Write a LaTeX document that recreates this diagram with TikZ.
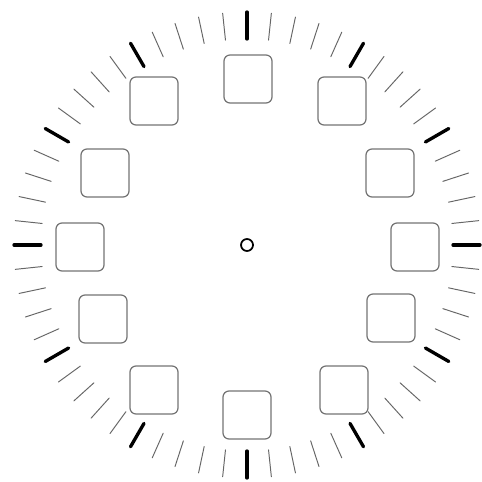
\documentclass[tikz,border=0pt]{standalone}
\usetikzlibrary{calc}
\begin{document}
\begin{tikzpicture}[x=0.02cm, y=-0.02cm, line join=round, line cap=round]
	\def\rin{206}\def\rout{233}
	\tikzset{hourbox/.style={draw=black!55, line width=0.7pt, rounded corners=0.12cm, minimum size=0.96cm, inner sep=0pt},
		minortick/.style={black!60, line width=0.55pt},
		majortick/.style={black, line width=1.9pt}}
	\useasboundingbox (0,0) rectangle (481,482);
	\path
	(247,245) coordinate (O)
	;
	% ticks
	\foreach \k in {0,...,59}{
		\pgfmathtruncatemacro\m{mod(\k,5)}
		\ifnum\m=0
		\draw[majortick] ($(O)+(\k*6:\rin)$) -- ($(O)+(\k*6:\rout)$);
		\else
		\draw[minortick] ($(O)+(\k*6:\rin)$) -- ($(O)+(\k*6:\rout)$);
		\fi
	}
	% hour boxes
	\foreach \h/\dx/\dy in {12/1/-166, 1/95/-144, 2/143/-72, 3/168/2, 4/144/73, 5/97/145,
		6/0/170, 7/-93/145, 8/-144/74, 9/-167/2, 10/-142/-72, 11/-93/-144}{
		\node[hourbox] (h\h) at ($(O)+(\dx,\dy)$) {};
	}
	\node[draw, circle, line width=1pt, minimum size=0.24cm, inner sep=0pt] (pivot) at (O) {};
\end{tikzpicture}
\end{document}
